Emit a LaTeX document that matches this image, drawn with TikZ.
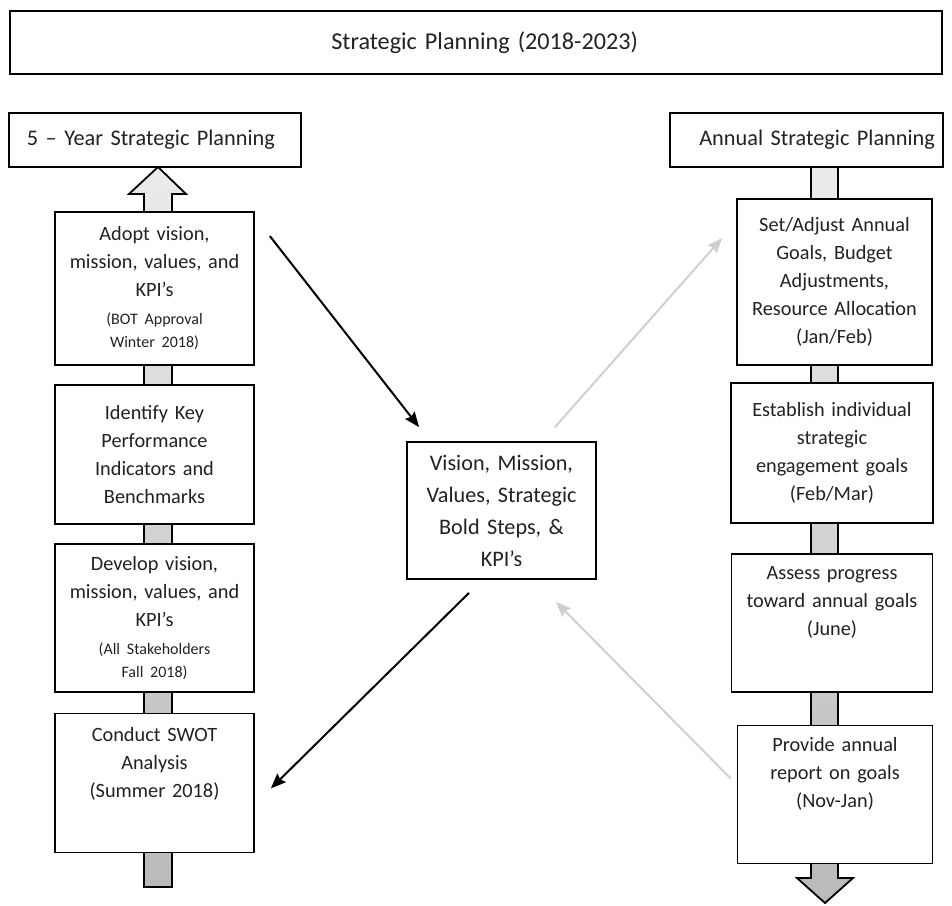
\documentclass[tikz,border=0pt]{standalone}
\usepackage{fontspec}
\setmainfont{Carlito}
\usetikzlibrary{calc,positioning,arrows.meta}
\definecolor{txtgray}{HTML}{222222}
\definecolor{linkgray}{HTML}{CFCFCF}
\definecolor{shaftlight}{HTML}{EBEBEB}
\definecolor{shaftdark}{HTML}{BABABA}
\tikzset{
    >={Stealth[length=15pt,width=12pt,inset=2pt]},
    stepbox/.style={
        rectangle,
        draw=black, line width=1.8pt,
        fill=white,
        text=txtgray,
        font=\fontsize{20.3}{28}\selectfont,
        align=center,
        inner sep=0pt
    },
    headbox/.style={
        stepbox,
        minimum height=54pt,
        font=\fontsize{22.3}{28}\selectfont
    },
    titlebox/.style={
        stepbox,
        minimum width=932pt,
        minimum height=63pt,
        font=\fontsize{24.2}{30}\selectfont
    },
    bigshaft/.style={draw=black, line width=1.8pt, top color=shaftlight, bottom color=shaftdark},
    mainlink/.style={draw=black, line width=2pt, ->},
    faintlink/.style={draw=linkgray, line width=2pt, ->}
}
\newcommand{\smalltxt}{\fontsize{16}{23}\selectfont}

\begin{document}
\begin{tikzpicture}[x=1pt, y=-1pt]
    \useasboundingbox (0,0) rectangle (952,905);

    \draw[bigshaft] (144,887) -- (144,194) -- (129,194) -- (158,167) -- (186,194) -- (172,194) -- (172,887) -- cycle;
    \draw[bigshaft] (811,167) -- (811,878) -- (797,878) -- (825,903) -- (853,878) -- (838,878) -- (838,167) -- cycle;

    \node[titlebox, text width=324pt, align=right] (title) at (476,42.5) {Strategic Planning (2018-2023)};
    \node[headbox, minimum width=292pt, text width=256pt, align=left] (fiveyear) at (155,140) {5 – Year Strategic Planning};
    \node[headbox, minimum width=273pt, text width=257pt, align=right] (annual) at (806.5,140) {Annual Strategic Planning};

    \node[stepbox, minimum width=199pt, minimum height=153pt, text width=180pt] (adopt) at (154.5,288.5)
        {Adopt vision,\\ mission, values, and\\ KPI’s\\ {\smalltxt (BOT Approval}\\[-5pt] {\smalltxt Winter 2018)}};
    \node[stepbox, minimum width=199pt, minimum height=139pt, text width=180pt, below=18pt of adopt] (identify)
        {Identify Key\\ Performance\\ Indicators and\\ Benchmarks};
    \node[stepbox, minimum width=199pt, minimum height=148pt, text width=180pt, below=18pt of identify] (develop)
        {Develop vision,\\ mission, values, and\\ KPI’s\\ {\smalltxt (All Stakeholders}\\[-5pt] {\smalltxt Fall 2018)}};
    \node[stepbox, minimum width=199pt, minimum height=139pt, text width=180pt, below=20pt of develop] (swot)
        {Conduct SWOT\\ Analysis\\ (Summer 2018)\\[12pt] \mbox{}};

    \node[stepbox, minimum width=189pt, minimum height=137pt, text width=175pt, font=\fontsize{22.2}{32}\selectfont] (vision) at (501.5,510.5)
        {Vision, Mission,\\ Values, Strategic\\ Bold Steps, \&\\ KPI’s};

    \node[stepbox, minimum width=195pt, minimum height=166pt, text width=180pt] (adjust) at (834.5,282)
        {Set/Adjust Annual\\ Goals, Budget\\ Adjustments,\\ Resource Allocation\\ (Jan/Feb)};
    \node[stepbox, minimum width=202pt, minimum height=140pt, text width=180pt, below=16pt of adjust, xshift=-2.5pt] (establish)
        {Establish individual\\ strategic\\ engagement goals\\ (Feb/Mar)};
    \node[stepbox, minimum width=201pt, minimum height=138pt, text width=180pt, below=29pt of establish] (assess)
        {Assess progress\\ toward annual goals\\ (June)\\[15pt] \mbox{}};
    \node[stepbox, minimum width=195pt, minimum height=138pt, text width=180pt, below=32pt of assess, xshift=3pt] (report)
        {Provide annual\\ report on goals\\ (Nov-Jan)\\[15pt] \mbox{}};

    \draw[mainlink] ($(adopt.north east)+(15,25)$) -- ($(vision.north west)+(13,-14)$);
    \draw[mainlink] ($(vision.south)+(-32.5,13)$) -- ($(swot.east)+(16,5.5)$);
    \draw[faintlink] ($(vision.north)+(53.5,-14)$) -- ($(adjust.west)+(-14,-44)$);
    \draw[faintlink] ($(report.west)+(-6,-16)$) -- ($(vision.south)+(54.5,22)$);
\end{tikzpicture}
\end{document}
